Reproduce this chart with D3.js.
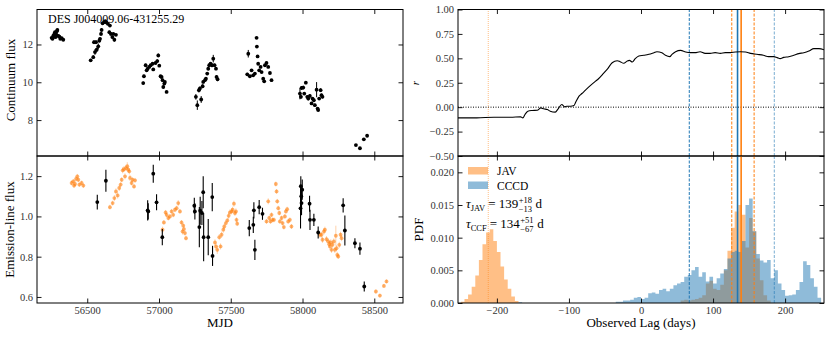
<!DOCTYPE html>
<html>
<head>
<meta charset="utf-8">
<script src="https://cdn.jsdelivr.net/npm/d3@7"></script>
<style>
  body { margin: 0; background: #fff; }
</style>
</head>
<body>
<div id="chart"></div>
<script>
// ---- data ----
const objName = "DES J004009.06-431255.29";

// continuum light curve (top left)
const contMJD = [
  56252, 56258, 56264, 56268, 56271, 56275, 56280, 56284, 56288, 56292, 56299, 56306, 56312, 56322, 56333,
  56524, 56542, 56554, 56547, 56561, 56566, 56577, 56584, 56589, 56596, 56600, 56607, 56617, 56626, 56635, 56644, 56654, 56658, 56665, 56675, 56682, 56689, 56700,
  56890, 56895, 56907, 56914, 56921, 56932, 56942, 56955, 56960, 56976, 56988, 56995, 57002, 57011, 57018, 57025, 57030, 57037, 57041, 57053,
  57257, 57267, 57278, 57285, 57294, 57304, 57308, 57320, 57327, 57336, 57343, 57350, 57359, 57369, 57378, 57387, 57397, 57401, 57408,
  57615, 57622, 57633, 57645, 57656, 57668, 57680, 57682, 57687, 57691, 57698, 57708, 57715, 57726, 57733, 57738, 57749, 57761, 57773, 57784,
  57982, 57989, 57993, 58005, 58012, 58023, 58033, 58040, 58051, 58063, 58070, 58079, 58086, 58098, 58105, 58109, 58116, 58126, 58132, 58139,
  58372, 58400, 58427, 58450
];
const contFlux = [
  12.35, 12.30, 12.47, 12.40, 12.56, 12.65, 12.39, 12.53, 12.70, 12.77, 12.45, 12.42, 12.30, 12.33, 12.25,
  11.16, 11.33, 11.60, 12.12, 12.12, 11.72, 11.90, 12.20, 12.30, 12.56, 12.77, 13.12, 13.18, 13.23, 13.16, 13.09, 12.65, 13.00, 12.56, 12.39, 12.56, 12.25, 12.51,
  9.96, 10.32, 10.90, 10.63, 10.72, 10.81, 10.90, 10.98, 10.68, 11.02, 11.12, 11.42, 10.88, 10.32, 10.28, 10.11, 9.75, 9.93, 10.02, 9.49,
  9.23, 8.79, 9.58, 9.67, 9.09, 9.79, 10.02, 10.11, 10.19, 10.46, 10.72, 10.90, 10.98, 10.90, 11.25, 10.90, 10.72, 10.28, 10.16,
  10.42, 11.51, 10.32, 10.63, 10.37, 10.46, 12.35, 11.89, 11.37, 10.98, 10.63, 10.81, 10.54, 10.19, 10.05, 10.90, 11.02, 10.81, 10.49, 10.11,
  9.40, 9.23, 9.70, 9.72, 9.40, 9.98, 9.23, 9.14, 9.28, 8.88, 9.14, 9.05, 8.79, 9.61, 8.61, 8.53, 9.14, 9.58, 9.32, 9.23,
  6.68, 6.51, 6.98, 7.17
];
const contErr = [
  0.06, 0.06, 0.06, 0.06, 0.06, 0.06, 0.06, 0.06, 0.06, 0.06, 0.06, 0.06, 0.06, 0.06, 0.06,
  0.08, 0.10, 0.15, 0.10, 0.10, 0.12, 0.15, 0.10, 0.08, 0.10, 0.10, 0.06, 0.06, 0.06, 0.06, 0.06, 0.08, 0.06, 0.10, 0.08, 0.06, 0.10, 0.06,
  0.08, 0.08, 0.08, 0.06, 0.06, 0.06, 0.06, 0.06, 0.06, 0.06, 0.10, 0.10, 0.06, 0.06, 0.06, 0.06, 0.08, 0.06, 0.06, 0.06,
  0.15, 0.25, 0.12, 0.10, 0.18, 0.10, 0.08, 0.08, 0.08, 0.08, 0.10, 0.10, 0.08, 0.10, 0.20, 0.08, 0.08, 0.10, 0.10,
  0.08, 0.20, 0.06, 0.06, 0.06, 0.06, 0.06, 0.06, 0.06, 0.06, 0.06, 0.06, 0.06, 0.06, 0.06, 0.06, 0.06, 0.06, 0.06, 0.06,
  0.30, 0.10, 0.10, 0.10, 0.08, 0.08, 0.08, 0.10, 0.10, 0.08, 0.08, 0.08, 0.08, 0.40, 0.06, 0.06, 0.08, 0.10, 0.08, 0.08,
  0.05, 0.05, 0.05, 0.05
];

// emission-line light curve, dense (orange) points
const lineMJD = [
  56391, 56403, 56408, 56415, 56422, 56431, 56438, 56445, 56461, 56473,
  56658, 56677, 56689, 56700, 56712, 56723, 56733, 56740, 56747, 56756, 56763, 56770, 56779, 56786, 56793, 56798, 56809, 56816, 56826, 56833,
  57025, 57034, 57046, 57053, 57065, 57076, 57088, 57099, 57111, 57123, 57134, 57146, 57157, 57164, 57169, 57174, 57181, 57188,
  57390, 57397, 57406, 57420, 57429, 57436, 57448, 57455, 57466, 57476, 57485, 57494, 57506, 57513, 57522, 57529, 57536, 57540, 57545,
  57749, 57761, 57768, 57777, 57784, 57791, 57801, 57814, 57819, 57824, 57831, 57838, 57842, 57854, 57861, 57870, 57877, 57884, 57893, 57900, 57912, 57923,
  58121, 58132, 58139, 58149, 58156, 58167, 58179, 58186, 58191, 58197, 58202, 58209, 58218, 58225, 58232, 58237, 58242, 58249, 58256, 58265, 58272,
  58511, 58539, 58567, 58585
];
const lineFlux = [
  1.166, 1.174, 1.153, 1.161, 1.186, 1.199, 1.182, 1.158, 1.166, 1.153,
  1.046, 1.066, 1.091, 1.124, 1.104, 1.141, 1.158, 1.182, 1.229, 1.235, 1.199, 1.240, 1.249, 1.232, 1.224, 1.191, 1.166, 1.182, 1.149, 1.179,
  0.934, 0.970, 1.020, 1.008, 0.992, 1.000, 1.025, 1.008, 1.033, 1.041, 1.066, 1.025, 0.970, 0.925, 0.954, 0.937, 0.917, 0.892,
  0.871, 0.851, 0.834, 0.897, 0.851, 0.909, 0.934, 0.950, 0.967, 0.980, 1.003, 1.020, 1.025, 1.033, 1.063, 1.017, 1.025, 0.983, 0.964,
  0.975, 1.075, 0.992, 0.975, 1.008, 0.983, 0.983, 1.161, 1.124, 1.075, 1.041, 1.017, 0.975, 0.992, 0.967, 0.947, 1.000, 1.025, 1.036, 0.975, 0.983, 0.950,
  0.909, 0.909, 0.884, 0.925, 0.934, 0.887, 0.876, 0.862, 0.851, 0.871, 0.834, 0.859, 0.876, 0.834, 0.904, 0.842, 0.809, 0.801, 0.859, 0.909, 0.892,
  0.627, 0.607, 0.655, 0.677
];
const lineErr = [
  0.012, 0.012, 0.012, 0.012, 0.012, 0.012, 0.012, 0.012, 0.012, 0.012,
  0.012, 0.012, 0.015, 0.015, 0.015, 0.015, 0.012, 0.012, 0.015, 0.015, 0.015, 0.015, 0.020, 0.015, 0.015, 0.015, 0.012, 0.012, 0.012, 0.012,
  0.015, 0.012, 0.012, 0.012, 0.012, 0.012, 0.012, 0.012, 0.012, 0.012, 0.015, 0.012, 0.012, 0.015, 0.012, 0.012, 0.012, 0.012,
  0.015, 0.015, 0.020, 0.015, 0.015, 0.015, 0.015, 0.015, 0.012, 0.012, 0.015, 0.015, 0.015, 0.015, 0.015, 0.015, 0.015, 0.012, 0.012,
  0.012, 0.015, 0.012, 0.012, 0.012, 0.012, 0.012, 0.012, 0.012, 0.012, 0.012, 0.012, 0.012, 0.012, 0.012, 0.012, 0.012, 0.012, 0.012, 0.012, 0.012, 0.012,
  0.015, 0.015, 0.015, 0.015, 0.015, 0.015, 0.015, 0.015, 0.015, 0.015, 0.015, 0.015, 0.015, 0.015, 0.050, 0.015, 0.015, 0.012, 0.015, 0.015, 0.015,
  0.010, 0.010, 0.010, 0.010
];

// emission-line light curve, sparse (black) points
const specMJD  = [56570, 56630, 56921, 56925, 56960, 56983, 57023, 57246, 57250, 57281, 57287, 57299, 57308, 57311, 57343, 57371, 57373,
                  57629, 57657, 57661, 57668, 57698, 57721, 57986, 57988, 57991, 57993, 57998, 58049, 58052, 58079, 58109, 58283, 58295, 58365, 58400, 58430];
const specFlux = [1.071, 1.177, 1.030, 1.025, 1.212, 1.070, 0.897, 1.053, 1.025, 0.947, 1.028, 1.017, 1.120, 0.897, 0.897, 1.096, 0.804,
                  0.942, 0.958, 1.030, 0.834, 1.046, 1.013, 1.040, 1.150, 1.100, 1.066, 1.133, 1.063, 0.983, 0.983, 0.920, 1.055, 0.930, 0.867, 0.840, 0.652];
const specErr  = [0.037, 0.055, 0.050, 0.040, 0.045, 0.040, 0.040, 0.040, 0.040, 0.100, 0.070, 0.060, 0.080, 0.120, 0.090, 0.070, 0.050,
                  0.040, 0.040, 0.040, 0.050, 0.035, 0.030, 0.100, 0.050, 0.050, 0.060, 0.050, 0.040, 0.050, 0.030, 0.030, 0.035, 0.075, 0.025, 0.030, 0.025];

// cross-correlation function (top right)
const ccfLag = [-254, -228, -204, -181, -167, -164, -161, -157, -151, -144, -139, -135, -130, -126, -119, -115, -110, -106, -103, -98, -93, -91,
                -86, -82, -77, -70, -63, -59, -52, -47, -40, -33, -29, -24, -19, -16, -12, -8, -3, 4, 11, 18, 22, 29, 34, 40, 43, 48, 55,
                62, 68, 75, 82, 89, 96, 103, 110, 117, 124, 131, 138, 145, 152, 161, 170, 177, 184, 189, 193, 198, 205, 212, 219, 226, 233, 240, 247, 255];
const ccfR = [-0.110, -0.110, -0.103, -0.103, -0.099, -0.110, -0.075, -0.041, -0.034, -0.031, -0.007, -0.017, -0.024, -0.041, -0.051, -0.017, 0.027, 0.003, 0.010, 0.010, 0.017, 0.045,
              0.113, 0.140, 0.175, 0.223, 0.267, 0.291, 0.346, 0.387, 0.455, 0.476, 0.466, 0.449, 0.473, 0.479, 0.462, 0.497, 0.524, 0.531, 0.541, 0.558, 0.568, 0.558, 0.531, 0.517, 0.541, 0.568, 0.582,
              0.565, 0.558, 0.558, 0.568, 0.551, 0.551, 0.558, 0.551, 0.558, 0.558, 0.565, 0.568, 0.565, 0.551, 0.541, 0.531, 0.517, 0.517, 0.507, 0.497, 0.510, 0.517, 0.531, 0.548, 0.558, 0.575, 0.599, 0.599, 0.586];

// lag posteriors (bottom right), 5-day bins starting at -250
const binStart = -250, binWidth = 5;
const javPDF = [
  0.0002, 0.0006, 0.0013, 0.0025, 0.0042, 0.0066, 0.0090, 0.0108, 0.0113, 0.0095,
  0.0078, 0.0056, 0.0036, 0.0022, 0.0010, 0.0003, 0, 0, 0, 0,
  0, 0, 0, 0, 0, 0, 0, 0, 0, 0,
  0, 0, 0, 0, 0, 0, 0, 0, 0, 0,
  0, 0, 0, 0, 0, 0, 0, 0, 0, 0,
  0, 0, 0, 0, 0, 0, 0, 0, 0, 0,
  0, 0.0004, 0.0005, 0.0004, 0.0005, 0.0006, 0.0008, 0.0012, 0.0030, 0.0034,
  0.0022, 0.0020, 0.0028, 0.0050, 0.0080, 0.0115, 0.0140, 0.0150, 0.0135, 0.0085,
  0.0130, 0.0110, 0.0068, 0.0035, 0.0012, 0.0004, 0, 0, 0, 0,
  0, 0, 0, 0, 0, 0, 0, 0, 0, 0
];
const cccdPDF = [
  0, 0, 0, 0, 0, 0, 0, 0, 0, 0,
  0, 0, 0, 0, 0, 0, 0.0001, 0, 0, 0,
  0, 0, 0, 0, 0, 0, 0, 0, 0, 0,
  0, 0, 0, 0, 0, 0, 0, 0, 0, 0,
  0, 0, 0, 0.0002, 0.0002, 0.0004, 0.0004, 0.0005, 0.0008, 0.0009,
  0.0006, 0.0008, 0.0015, 0.0016, 0.0014, 0.0020, 0.0022, 0.0018, 0.0022, 0.0027,
  0.0030, 0.0032, 0.0040, 0.0043, 0.0050, 0.0055, 0.0040, 0.0047, 0.0033, 0.0040,
  0.0030, 0.0038, 0.0045, 0.0052, 0.0068, 0.0078, 0.0080, 0.0078, 0.0095, 0.0150,
  0.0160, 0.0110, 0.0075, 0.0065, 0.0062, 0.0066, 0.0038, 0.0050, 0.0030, 0.0020,
  0.0011, 0.0012, 0.0013, 0.0020, 0.0032, 0.0064, 0.0058, 0.0038, 0.0025, 0.0008
];

// lag summary: median, lower, upper
const javLag = [139, 126, 157];
const ccfLagSummary = [134, 67, 185];
const javAltPeak = -212;
const javErrTxt = ["139", "+18", "−13"];
const ccfErrTxt = ["134", "+51", "−67"];

// tick values
const mjdTicks = [56500, 57000, 57500, 58000, 58500];
const contTicks = [8, 10, 12];
const lineTicks = [0.6, 0.8, 1.0, 1.2];
const lagTicks = [-200, -100, 0, 100, 200];
const rTicks = [-0.5, -0.25, 0, 0.25, 0.5, 0.75, 1.0];
const pdfTicks = [0, 0.005, 0.01, 0.015, 0.02];

// ---- layout ----
const W = 831, H = 338;
const L = {x0: 37, x1: 403}, R = {x0: 458, x1: 824};
const T = {y0: 9.5, y1: 156}, B = {y0: 156, y1: 303};
const ORANGE = "#ff7f0e", BLUE = "#1f77b4";
const FONT = "'Liberation Serif'";

const svg = d3.select("#chart").append("svg")
  .attr("width", W).attr("height", H)
  .attr("font-family", FONT);

const xMJD = d3.scaleLinear().domain([56150, 58700]).range([L.x0, L.x1]);
const yCont = d3.scaleLinear().domain([6.1, 13.85]).range([T.y1, T.y0]);
const yLine = d3.scaleLinear().domain([0.57, 1.30]).range([B.y1, B.y0]);
const xLag = d3.scaleLinear().domain([-254, 254]).range([R.x0, R.x1]);
const yR = d3.scaleLinear().domain([-0.5, 1.0]).range([T.y1, T.y0]);
const yPDF = d3.scaleLinear().domain([0, 0.0225]).range([B.y1, B.y0]);

let clipN = 0;
function clipFor(x, y) {
  const id = "clip" + (clipN++);
  svg.append("clipPath").attr("id", id).append("rect")
    .attr("x", x.range()[0]).attr("y", y.range()[1])
    .attr("width", x.range()[1] - x.range()[0])
    .attr("height", y.range()[0] - y.range()[1]);
  return svg.append("g").attr("clip-path", `url(#${id})`);
}

// frame + inward ticks on all four sides
function axes(x, y, xt, yt, fx, fy) {
  const g = svg.append("g");
  const tk = 4.5;
  const style = a => a.call(s => s.select(".domain").remove())
    .attr("font-family", FONT).attr("font-size", 10.5);
  g.append("g").attr("transform", `translate(0,${y.range()[0]})`)
    .call(d3.axisBottom(x).tickValues(xt).tickSizeInner(-tk).tickSizeOuter(0).tickPadding(4).tickFormat(fx || ""))
    .call(style);
  g.append("g").attr("transform", `translate(0,${y.range()[1]})`)
    .call(d3.axisTop(x).tickValues(xt).tickSizeInner(-tk).tickSizeOuter(0).tickFormat(""))
    .call(style);
  g.append("g").attr("transform", `translate(${x.range()[0]},0)`)
    .call(d3.axisLeft(y).tickValues(yt).tickSizeInner(-tk).tickSizeOuter(0).tickPadding(4).tickFormat(fy))
    .call(style);
  g.append("g").attr("transform", `translate(${x.range()[1]},0)`)
    .call(d3.axisRight(y).tickValues(yt).tickSizeInner(-tk).tickSizeOuter(0).tickFormat(""))
    .call(style);
  g.selectAll(".tick line").attr("stroke", "#000").attr("stroke-width", 0.9);
  g.selectAll(".tick text").attr("fill", "#333");
  g.append("rect")
    .attr("x", x.range()[0]).attr("y", y.range()[1])
    .attr("width", x.range()[1] - x.range()[0])
    .attr("height", y.range()[0] - y.range()[1])
    .attr("fill", "none").attr("stroke", "#000").attr("stroke-width", 1);
}

function ylabel(txt, x, y, italic, size) {
  svg.append("text").attr("transform", `translate(${x},${y}) rotate(-90)`)
    .attr("text-anchor", "middle").attr("font-size", size || 13)
    .attr("font-style", italic ? "italic" : null).text(txt);
}

// ---- top left: continuum ----
svg.append("text").attr("x", 48).attr("y", 23).attr("font-size", 12).text(objName);
const gC = clipFor(xMJD, yCont);
const cont = contMJD.map((m, i) => ({m, v: contFlux[i], e: contErr[i]}));
gC.selectAll("line.eb").data(cont).join("line")
  .attr("x1", d => xMJD(d.m)).attr("x2", d => xMJD(d.m))
  .attr("y1", d => yCont(d.v - d.e)).attr("y2", d => yCont(d.v + d.e))
  .attr("stroke", "#000").attr("stroke-width", 1);
gC.selectAll("circle").data(cont).join("circle")
  .attr("cx", d => xMJD(d.m)).attr("cy", d => yCont(d.v)).attr("r", 1.9).attr("fill", "#000");
axes(xMJD, yCont, mjdTicks, contTicks, null, d3.format("d"));
ylabel("Continuum flux", 15, 80);

// ---- bottom left: emission line ----
const gL = clipFor(xMJD, yLine);
const lineP = lineMJD.map((m, i) => ({m, v: lineFlux[i], e: lineErr[i]}));
gL.selectAll("line.leb").data(lineP).join("line").attr("class", "leb")
  .attr("x1", d => xMJD(d.m)).attr("x2", d => xMJD(d.m))
  .attr("y1", d => yLine(d.v - d.e)).attr("y2", d => yLine(d.v + d.e))
  .attr("stroke", ORANGE).attr("stroke-opacity", 0.35).attr("stroke-width", 1);
gL.selectAll("circle.lp").data(lineP).join("circle").attr("class", "lp")
  .attr("cx", d => xMJD(d.m)).attr("cy", d => yLine(d.v)).attr("r", 1.9)
  .attr("fill", ORANGE).attr("fill-opacity", 0.6);
const specP = specMJD.map((m, i) => ({m, v: specFlux[i], e: specErr[i]}));
gL.selectAll("line.seb").data(specP).join("line").attr("class", "seb")
  .attr("x1", d => xMJD(d.m)).attr("x2", d => xMJD(d.m))
  .attr("y1", d => yLine(d.v - d.e)).attr("y2", d => yLine(d.v + d.e))
  .attr("stroke", "#000").attr("stroke-width", 1.1);
gL.selectAll("circle.sp").data(specP).join("circle").attr("class", "sp")
  .attr("cx", d => xMJD(d.m)).attr("cy", d => yLine(d.v)).attr("r", 1.9).attr("fill", "#000");
axes(xMJD, yLine, mjdTicks, lineTicks, d3.format("d"), d3.format(".1f"));
ylabel("Emission-line flux", 14, 229.5);
svg.append("text").attr("x", (L.x0 + L.x1) / 2).attr("y", 327).attr("text-anchor", "middle")
  .attr("font-size", 13).text("MJD");

// vertical lag markers, both right panels
function lagLines(g, y) {
  const v = (lag, color, dash, width, op) => g.append("line")
    .attr("x1", xLag(lag)).attr("x2", xLag(lag))
    .attr("y1", y.range()[0]).attr("y2", y.range()[1])
    .attr("stroke", color).attr("stroke-width", width)
    .attr("stroke-dasharray", dash).attr("stroke-opacity", op);
  v(javAltPeak, ORANGE, "1,1", 1, 0.5);
  v(ccfLagSummary[1], BLUE, "3,1.5", 1, 1);
  v(ccfLagSummary[2], BLUE, "3,1.5", 1, 0.6);
  v(javLag[1], ORANGE, "3,1.5", 1, 1);
  v(javLag[2], ORANGE, "3,1.5", 1, 1);
  v(ccfLagSummary[0], BLUE, null, 1.6, 1);
  v(javLag[0], ORANGE, null, 1.6, 1);
}

// ---- top right: CCF ----
const gR = clipFor(xLag, yR);
gR.append("line").attr("x1", R.x0).attr("x2", R.x1).attr("y1", yR(0)).attr("y2", yR(0))
  .attr("stroke", "#000").attr("stroke-dasharray", "1,1.5").attr("stroke-width", 1);
lagLines(gR, yR);
gR.append("path").datum(ccfLag.map((l, i) => [l, ccfR[i]]))
  .attr("d", d3.line().x(d => xLag(d[0])).y(d => yR(d[1])).curve(d3.curveMonotoneX))
  .attr("fill", "none").attr("stroke", "#000").attr("stroke-width", 1.1);
axes(xLag, yR, lagTicks, rTicks, null, d3.format(".2f"));
ylabel("r", 419, 83, true, 11);

// ---- bottom right: lag PDFs ----
const gP = clipFor(xLag, yPDF);
function hist(vals, color) {
  const pts = vals.map((v, i) => [binStart + i * binWidth, v]);
  pts.push([binStart + vals.length * binWidth, vals[vals.length - 1]]);
  gP.append("path").datum(pts)
    .attr("d", d3.area().x(d => xLag(d[0])).y0(yPDF(0)).y1(d => yPDF(d[1])).curve(d3.curveStepAfter))
    .attr("fill", color).attr("fill-opacity", 0.5);
}
hist(javPDF, ORANGE);
hist(cccdPDF, BLUE);
lagLines(gP, yPDF);
axes(xLag, yPDF, lagTicks, pdfTicks, d3.format("d"), d3.format(".3f"));
ylabel("PDF", 423, 229.5);
svg.append("text").attr("x", (R.x0 + R.x1) / 2).attr("y", 327).attr("text-anchor", "middle")
  .attr("font-size", 13).text("Observed Lag (days)");

// legend
const legend = [["JAV", ORANGE], ["CCCD", BLUE]];
legend.forEach(([name, c], i) => {
  svg.append("rect").attr("x", 468).attr("y", 167 + i * 14.5).attr("width", 20).attr("height", 7.5)
    .attr("fill", c).attr("fill-opacity", 0.5);
  svg.append("text").attr("x", 497).attr("y", 175 + i * 14.5).attr("font-size", 11.5).text(name);
});

// lag annotations
function mathLabel(x, y, sub, parts) {
  let cx = x;
  const put = (txt, dy, size, italic) => svg.append("text")
    .attr("x", cx).attr("y", y + dy).attr("font-size", size)
    .attr("font-style", italic ? "italic" : null).text(txt).node().getComputedTextLength();
  cx += put("τ", 0, 13, true);
  cx += put(sub, 3, 8.5) + 3;
  cx += put("= " + parts[0], 0, 13) + 0.5;
  const w1 = put(parts[1], -5, 8.5);
  const w2 = put(parts[2], 3.5, 8.5);
  cx += Math.max(w1, w2) + 3.5;
  put("d", 0, 13);
}
mathLabel(466, 208, "JAV", javErrTxt);
mathLabel(466, 228, "CCF", ccfErrTxt);
</script>
</body>
</html>
